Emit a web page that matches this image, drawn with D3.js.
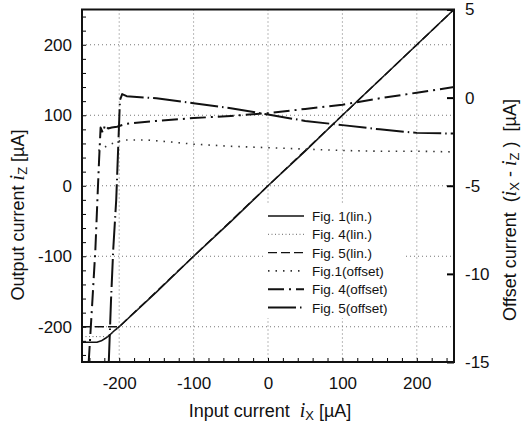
<!DOCTYPE html>
<html>
<head>
<meta charset="utf-8">
<script src="https://cdn.jsdelivr.net/npm/d3@7"></script>
<style>
  body { margin: 0; background: #fff; }
  svg text { font-family: "Liberation Sans", Arial, sans-serif; fill: #111; }
</style>
</head>
<body>
<div id="graph"></div>
<script>
// Output current vs input current (left axis, uA)
const fig1Lin = [[-250,-222],[-230,-222],[-224,-220],[-218,-216],[-212,-211],[-206,-205],[-200,-200],[-150,-151],[-100,-100],[-50,-51],[0,0],[50,49],[100,100],[150,150],[200,200],[250,250]];
const fig4Lin = [[-250,-214],[-238,-214],[-214,-214],[-200,-200],[-100,-100],[0,0],[100,100],[200,200],[250,250]];
const fig5Lin = [[-250,-200],[-212,-200],[-200,-200],[-100,-100],[0,0],[100,100],[200,200],[250,250]];

// Offset current (right axis, uA)
const fig1Off = [[-228,-3.0],[-212,-2.64],[-196,-2.4],[-163,-2.4],[-130,-2.52],[-100,-2.64],[-50,-2.76],[0,-2.84],[50,-2.92],[100,-3.0],[150,-3.04],[200,-3.04],[250,-3.08]];
const fig4Off = [[-241,-15],[-236,-11.5],[-232,-8.6],[-229,-5.5],[-227,-3.5],[-225,-1.7],[-222,-2.0],[-219,-1.55],[-215,-1.75],[-210,-1.7],[-203,-1.65],[-190,-1.48],[-150,-1.32],[-100,-1.16],[-50,-1.04],[0,-0.88],[50,-0.64],[100,-0.4],[150,-0.04],[200,0.28],[250,0.6]];
const fig5Off = [[-214,-15],[-211,-11.5],[-208,-8.6],[-204,-5.8],[-202,-3.55],[-199,-0.15],[-196,0.2],[-190,0.08],[-150,-0.04],[-100,-0.32],[-50,-0.6],[0,-0.96],[50,-1.32],[100,-1.56],[150,-1.8],[200,-2.0],[250,-2.04]];

const xTicks = [-200, -100, 0, 100, 200];
const yTicks = [-200, -100, 0, 100, 200];
const yRightTicks = [5, 0, -5, -10, -15];
const legendLabels = ["Fig. 1(lin.)", "Fig. 4(lin.)", "Fig. 5(lin.)", "Fig.1(offset)", "Fig. 4(offset)", "Fig. 5(offset)"];

const width = 522, height = 427;
const plot = {left: 82, right: 454, top: 9.5, bottom: 362};
const fmt = d => String(d);   // plain hyphen minus, like the original

let svg = d3.select("#graph").append("svg")
    .attr("width", width)
    .attr("height", height);

let x = d3.scaleLinear().domain([-250, 250]).range([plot.left, plot.right]);
let y = d3.scaleLinear().domain([-250, 250]).range([plot.bottom, plot.top]);
let yR = d3.scaleLinear().domain([-15, 5]).range([plot.bottom, plot.top]);

// Dotted grid
let grid = svg.append("g")
    .attr("stroke", "#777")
    .attr("stroke-width", 1)
    .attr("stroke-dasharray", "1,3");
grid.selectAll(".gx").data(xTicks).enter().append("line")
    .attr("x1", d => x(d)).attr("x2", d => x(d))
    .attr("y1", plot.top).attr("y2", plot.bottom);
grid.selectAll(".gy").data(yTicks).enter().append("line")
    .attr("x1", plot.left).attr("x2", plot.right)
    .attr("y1", d => y(d)).attr("y2", d => y(d));

// Minor inward ticks
svg.append("g")
    .attr("transform", `translate(0, ${plot.bottom})`)
    .call(d3.axisBottom(x).tickValues(d3.range(-240, 250, 20)).tickSize(-4).tickFormat(""))
    .call(g => g.select(".domain").remove());
svg.append("g")
    .attr("transform", `translate(${plot.left}, 0)`)
    .call(d3.axisLeft(y).tickValues(d3.range(-240, 250, 20)).tickSize(-4).tickFormat(""))
    .call(g => g.select(".domain").remove());

// Tick labels
svg.append("g")
    .attr("transform", `translate(0, ${plot.bottom})`)
    .call(d3.axisBottom(x).tickValues(xTicks).tickFormat(fmt).tickSize(0).tickPadding(15))
    .call(g => g.select(".domain").remove())
    .selectAll("text").style("font-size", "17px");
svg.append("g")
    .attr("transform", `translate(${plot.left}, 0)`)
    .call(d3.axisLeft(y).tickValues(yTicks).tickFormat(fmt).tickSize(0).tickPadding(10))
    .call(g => g.select(".domain").remove())
    .selectAll("text").style("font-size", "17px");
svg.append("g")
    .attr("transform", `translate(${plot.right}, 0)`)
    .call(d3.axisRight(yR).tickValues(yRightTicks).tickFormat(fmt).tickSizeInner(-7).tickSizeOuter(0).tickPadding(11))
    .call(g => g.select(".domain").remove())
    .call(g => g.selectAll("line").attr("stroke-width", 2))
    .selectAll("text").style("font-size", "17px");

// Series
let lineL = d3.line().x(d => x(d[0])).y(d => y(d[1]));
let lineR = d3.line().x(d => x(d[0])).y(d => yR(d[1]));

const styles = [
    {w: 1.6, dash: null, color: "#111"},
    {w: 1, dash: "1,2.5", color: "#666"},
    {w: 1.4, dash: "9,4", color: "#111"},
    {w: 1.6, dash: "1.5,6", color: "#333"},
    {w: 2, dash: "16,5,2,5", color: "#111"},
    {w: 2, dash: "28,4,1.5,4", color: "#111"}
];
const series = [
    {data: fig1Lin, line: lineL}, {data: fig4Lin, line: lineL}, {data: fig5Lin, line: lineL},
    {data: fig1Off, line: lineR}, {data: fig4Off, line: lineR}, {data: fig5Off, line: lineR}
];

svg.append("clipPath").attr("id", "clip").append("rect")
    .attr("x", plot.left).attr("y", plot.top)
    .attr("width", plot.right - plot.left).attr("height", plot.bottom - plot.top);

// Legend background (hides the grid)
svg.append("rect")
    .attr("x", 263).attr("y", 204)
    .attr("width", 140).attr("height", 114)
    .attr("fill", "#fff");

series.forEach(function(s, i) {
    svg.append("path")
        .datum(s.data)
        .attr("clip-path", "url(#clip)")
        .attr("fill", "none")
        .attr("stroke", styles[i].color)
        .attr("stroke-width", styles[i].w)
        .attr("stroke-dasharray", styles[i].dash)
        .attr("stroke-linejoin", "round")
        .attr("d", s.line);
});

// Legend
let legend = svg.append("g");
legendLabels.forEach(function(label, i) {
    let ly = 216 + i * 18.3;
    legend.append("line")
        .attr("x1", 268).attr("x2", 304)
        .attr("y1", ly).attr("y2", ly)
        .attr("stroke", styles[i].color)
        .attr("stroke-width", styles[i].w)
        .attr("stroke-dasharray", styles[i].dash);
    legend.append("text")
        .attr("x", 312).attr("y", ly + 5)
        .style("font-size", "13.5px")
        .text(label);
});

// Frame
svg.append("rect")
    .attr("x", plot.left).attr("y", plot.top)
    .attr("width", plot.right - plot.left).attr("height", plot.bottom - plot.top)
    .attr("fill", "none")
    .attr("stroke", "#111")
    .attr("stroke-width", 2);

// Axis titles
function title(el, parts) {
    parts.forEach(function(p) {
        let t = el.append("tspan").text(p.t);
        if (p.it) t.style("font-family", "'Liberation Serif', serif").style("font-style", "italic").style("font-size", "20px");
        if (p.sub) t.style("font-size", "13px").attr("baseline-shift", "-25%");
    });
}
let xt = svg.append("text")
    .attr("x", 270).attr("y", 417)
    .attr("text-anchor", "middle")
    .style("font-size", "18px")
    .attr("xml:space", "preserve");
title(xt, [{t: "Input current  "}, {t: "i", it: true}, {t: "X", sub: true}, {t: " [µA]"}]);

let ylt = svg.append("text")
    .attr("transform", "translate(24, 215) rotate(-90)")
    .attr("text-anchor", "middle")
    .style("font-size", "18px");
title(ylt, [{t: "Output current "}, {t: "i", it: true}, {t: "Z", sub: true}, {t: " [µA]"}]);

let yrt = svg.append("text")
    .attr("transform", "translate(516, 210) rotate(-90)")
    .attr("text-anchor", "middle")
    .style("font-size", "18px")
    .attr("xml:space", "preserve");
title(yrt, [{t: "Offset current  ("}, {t: "i", it: true}, {t: "X", sub: true}, {t: " - "}, {t: "i", it: true}, {t: "Z", sub: true}, {t: " )  [µA]"}]);
</script>
</body>
</html>
